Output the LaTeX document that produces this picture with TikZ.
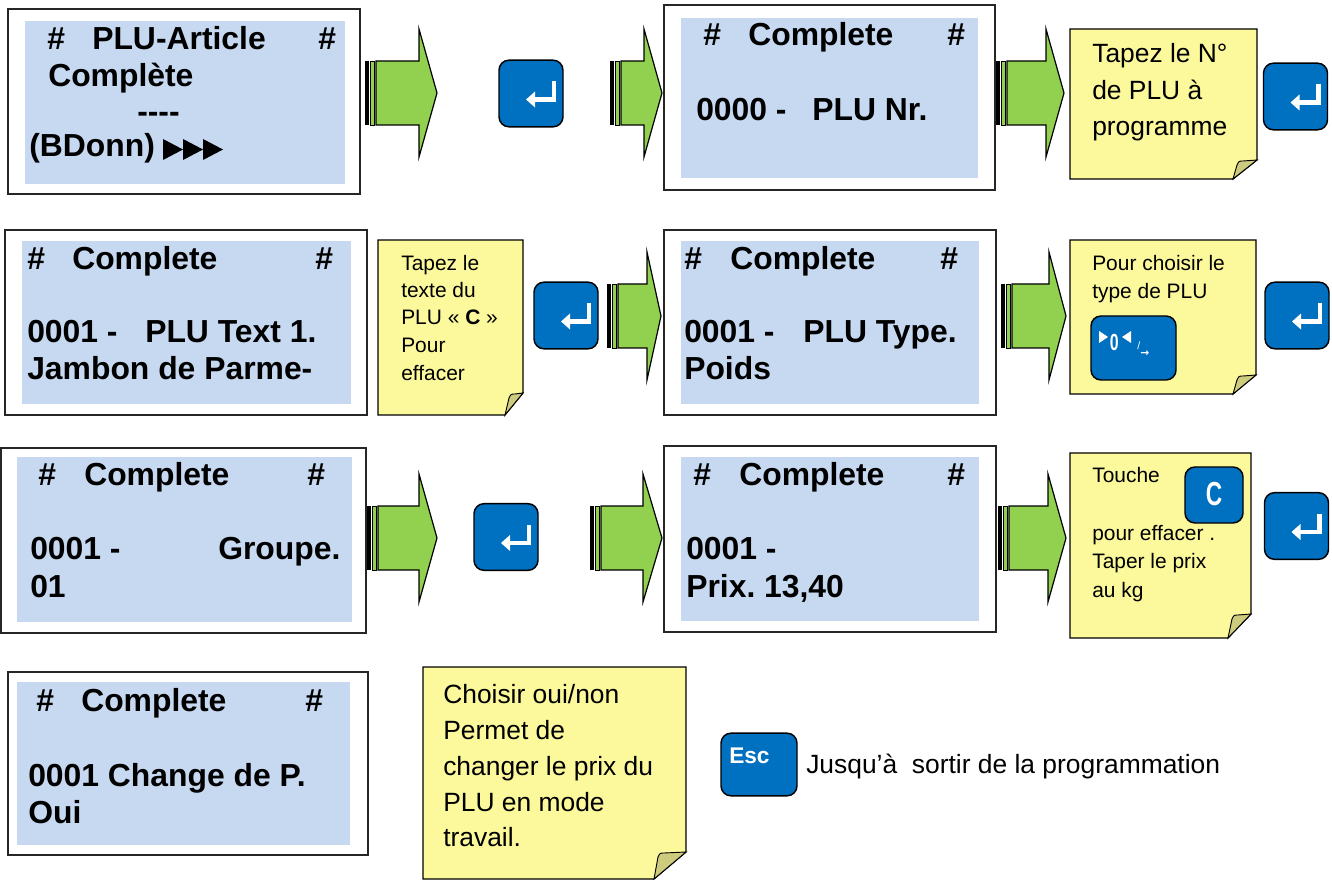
\documentclass[tikz,border=0pt]{standalone}
\usepackage{fontspec}
\setmainfont{Liberation Sans}
\newfontfamily\symbfont{DejaVu Sans}
\usetikzlibrary{arrows.meta}
\frenchspacing
\definecolor{Lcd}{HTML}{C6D9F1}
\definecolor{Note}{HTML}{FCF99C}
\definecolor{Pli}{HTML}{CDCB7E}
\definecolor{Touche}{HTML}{0070C0}
\definecolor{Vert}{HTML}{92D050}
\tikzset{
  cadre/.style={draw=black!85,line width=1.2pt},
  lcd/.style={fill=Lcd},
  lcdtxt/.style={anchor=base west,inner sep=0pt,font=\fontsize{23.9}{28}\selectfont\bfseries},
  notetxt/.style={anchor=base west,inner sep=0pt,font=\fontsize{19.8}{24}\selectfont},
  petittxt/.style={anchor=base west,inner sep=0pt,font=\fontsize{15.7}{19}\selectfont},
  touche/.style={draw=black,fill=Touche,rounded corners=7.5pt,line width=1.1pt},
  glyphe/.style={draw=white,line width=3.6pt},
  notefond/.style={draw=black,fill=Note,line width=0.9pt},
  pli/.style={draw=black,fill=Pli,line width=0.7pt},
  pics/entree/.style={code={
    \node[touche,minimum width=48pt,minimum height=50pt] (-k) at (0,0) {};
    \draw[glyphe] (23,-12) -- (23,6) -- (3,6);
    \fill[white] (-5,6) -- (4,-2) -- (4,14) -- cycle;
  }},
  pics/fleche/.style 2 args={code={
    \fill[black] (0,-32) rectangle (4,32);
    \draw[fill=Vert,line width=0.6pt] (5.5,-32) rectangle (9.5,32);
    \draw[fill=Vert,line width=0.9pt] (11,-32) -- (#1,-32) -- (#1,-64) -- (#2,0) -- (#1,64) -- (#1,32) -- (11,32) -- cycle;
  }}
}
\newcommand\notepli[6]{%
  \draw[notefond] (#1,#2) -- (#3,#2) -- (#3,{#4-#6}) -- ({#3-#5},#4) -- (#1,#4) -- cycle;
  \draw[pli] ({#3-#5},#4) -- ({#3-#5+4},{#4-#6+5}) .. controls ({#3-#5+6},{#4-#6+1}) .. ({#3-#5+10},{#4-#6+1}) -- (#3,{#4-#6}) -- cycle;}

\begin{document}
\begin{tikzpicture}[x=0.75pt,y=-0.75pt]
  \useasboundingbox (0,0) rectangle (1332,880);
  % ligne 1
  \draw[cadre] (8,9) rectangle (360,194);
  \fill[lcd] (25,21) rectangle (345,184);
  \node[lcdtxt] (e1a) at (47,50) {\#};
  \node[lcdtxt] (e1b) at (92,50) {PLU-Article};
  \node[lcdtxt] (e1c) at (318,50) {\#};
  \node[lcdtxt] (e1d) at (48,87) {Complète};
  \node[lcdtxt] (e1e) at (137,123) {{-}{-}{-}{-}};
  \node[lcdtxt] (e1f) at (29,157) {(BDonn)};
  \foreach \i in {0,1,2}
    \fill ({163+20*\i},139) -- ({183+20*\i},149.5) -- ({163+20*\i},160) -- cycle;
  \pic (f1) at (365,93) {fleche={54}{72}};
  \pic (ent1) at (531,93.5) {entree};
  \pic (f2) at (610,93) {fleche={34}{52}};
  \draw[cadre] (664,5) rectangle (995,190);
  \fill[lcd] (681,18) rectangle (978,178);
  \node[lcdtxt] (e2a) at (703,46) {\#};
  \node[lcdtxt] (e2b) at (748,46) {Complete};
  \node[lcdtxt] (e2c) at (947,46) {\#};
  \node[lcdtxt] (e2d) at (696,121) {0000 -};
  \node[lcdtxt] (e2e) at (812,121) {PLU Nr.};
  \pic (f3) at (996,93) {fleche={50}{68}};
  \notepli{1070}{29}{1257}{179}{24}{19}
  \node[notetxt] (n1a) at (1092,63) {Tapez le N°};
  \node[notetxt] (n1b) at (1092,100) {de PLU à};
  \node[notetxt] (n1c) at (1092,136) {programme};
  \pic (ent2) at (1295.5,96.5) {entree};
  % ligne 2
  \draw[cadre] (5,230) rectangle (367,415);
  \fill[lcd] (22,241) rectangle (351,404);
  \node[lcdtxt] (e3a) at (27,270) {\#};
  \node[lcdtxt] (e3b) at (72,270) {Complete};
  \node[lcdtxt] (e3c) at (315,270) {\#};
  \node[lcdtxt] (e3d) at (27,343) {0001 -};
  \node[lcdtxt] (e3e) at (145,343) {PLU Text 1.};
  \node[lcdtxt] (e3f) at (27,380) {Jambon de Parme-};
  \notepli{378}{240}{523}{415}{18}{22}
  \node[petittxt] (n2a) at (401,271) {Tapez le};
  \node[petittxt] (n2b) at (401,298) {texte du};
  \node[petittxt] (n2c) at (401,325) {PLU « \textbf{C} »};
  \node[petittxt] (n2d) at (401,353) {Pour};
  \node[petittxt] (n2e) at (401,381) {effacer};
  \pic (ent3) at (566,315.5) {entree};
  \pic (f4) at (607,316) {fleche={40}{54}};
  \draw[cadre] (664,230) rectangle (996,415);
  \fill[lcd] (681,241) rectangle (979,404);
  \node[lcdtxt] (e4a) at (684,270) {\#};
  \node[lcdtxt] (e4b) at (730,270) {Complete};
  \node[lcdtxt] (e4c) at (940,270) {\#};
  \node[lcdtxt] (e4d) at (684,343) {0001 -};
  \node[lcdtxt] (e4e) at (803,343) {PLU Type.};
  \node[lcdtxt] (e4f) at (684,380) {Poids};
  \pic (f5) at (1001,316) {fleche={48}{65}};
  \notepli{1070}{240}{1256}{394}{23}{19}
  \node[petittxt] (n3a) at (1092,271) {Pour choisir le};
  \node[petittxt] (n3b) at (1092,299) {type de PLU};
  \node[touche,minimum width=63.75pt,minimum height=48pt] (zero) at (1133.5,348) {};
  \fill[white] (1099,331) -- (1108,337) -- (1099,343) -- cycle;
  \node[anchor=base west,inner sep=0pt,text=white,font=\fontsize{17.5}{17.5}\selectfont\bfseries] (zerot) at (1109.5,350.5) {\scalebox{0.68}[1]{0}};
  \fill[white] (1131,331) -- (1122,337) -- (1131,343) -- cycle;
  \node[anchor=base west,inner sep=0pt,text=white,font=\fontsize{8}{8}\selectfont] (zeros) at (1137,350) {/};
  \node[anchor=base west,inner sep=0pt,text=white,font=\symbfont\fontsize{8}{8}\selectfont\bfseries] (zerof) at (1140,356.5) {→};
  \pic (ent4) at (1297,315.5) {entree};
  % ligne 3
  \draw[cadre] (0.8,448) rectangle (366,633);
  \fill[lcd] (17,457) rectangle (352,622);
  \node[lcdtxt] (e5a) at (38,486) {\#};
  \node[lcdtxt] (e5b) at (84,486) {Complete};
  \node[lcdtxt] (e5c) at (307,486) {\#};
  \node[lcdtxt] (e5d) at (30,559) {0001 -};
  \node[lcdtxt] (e5e) at (218,559) {Groupe.};
  \node[lcdtxt] (e5f) at (30,597) {01};
  \pic (f6) at (367,538) {fleche={52}{70}};
  \pic (ent5) at (506,537) {entree};
  \pic (f7) at (590,538) {fleche={53}{72}};
  \draw[cadre] (664,446) rectangle (996,632);
  \fill[lcd] (681,457) rectangle (979,621);
  \node[lcdtxt] (e6a) at (693,486) {\#};
  \node[lcdtxt] (e6b) at (739,486) {Complete};
  \node[lcdtxt] (e6c) at (947,486) {\#};
  \node[lcdtxt] (e6d) at (686,559) {0001 -};
  \node[lcdtxt] (e6e) at (686,597) {Prix. 13,40};
  \pic (f8) at (998,538) {fleche={50}{68}};
  \notepli{1070}{453}{1251}{638}{23}{24}
  \node[petittxt] (n4a) at (1092,483) {Touche};
  \node[touche,minimum width=43.5pt,minimum height=42pt] (toucheC) at (1214,495) {};
  \node[anchor=base,inner sep=0pt,text=white,font=\fontsize{25}{25}\selectfont\bfseries] (toucheCt) at (1214,506) {\scalebox{0.68}[1]{C}};
  \node[petittxt] (n4b) at (1092,540) {pour effacer .};
  \node[petittxt] (n4c) at (1092,568) {Taper le prix};
  \node[petittxt] (n4d) at (1092,597) {au kg};
  \pic (ent6) at (1296.5,526) {entree};
  % ligne 4
  \draw[cadre] (8,672) rectangle (368,855);
  \fill[lcd] (17,682) rectangle (350,845);
  \node[lcdtxt] (e7a) at (36,711) {\#};
  \node[lcdtxt] (e7b) at (81,711) {Complete};
  \node[lcdtxt] (e7c) at (305,711) {\#};
  \node[lcdtxt] (e7d) at (28,786) {0001 Change de P.};
  \node[lcdtxt] (e7e) at (28,823) {Oui};
  \notepli{423}{667}{686}{879}{32}{27}
  \node[notetxt] (n5a) at (443,703) {Choisir oui/non};
  \node[notetxt] (n5b) at (443,739) {Permet de};
  \node[notetxt] (n5c) at (443,775) {changer le prix du};
  \node[notetxt] (n5d) at (443,811) {PLU en mode};
  \node[notetxt] (n5e) at (443,846) {travail.};
  \node[touche,minimum width=57pt,minimum height=47pt] (esc) at (759,764.5) {};
  \node[anchor=base west,inner sep=0pt,text=white,font=\fontsize{17}{17}\selectfont\bfseries] (esct) at (729,763) {Esc};
  \node[notetxt] (sortir) at (806,773) {Jusqu’à\ \ sortir de la programmation};
\end{tikzpicture}
\end{document}
